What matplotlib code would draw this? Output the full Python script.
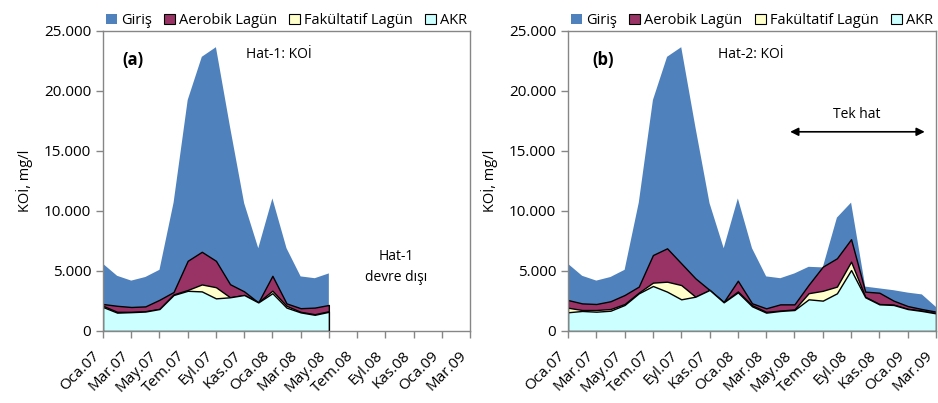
import matplotlib
matplotlib.use('Agg')
from matplotlib import pyplot as plt
from matplotlib.patches import Patch
from matplotlib.ticker import FuncFormatter

plt.rcParams['font.family'] = ['Open Sans', 'DejaVu Sans']

months = ['Oca.07', 'Şub.07', 'Mar.07', 'Nis.07', 'May.07', 'Haz.07', 'Tem.07', 'Ağu.07', 'Eyl.07',
          'Eki.07', 'Kas.07', 'Ara.07', 'Oca.08', 'Şub.08', 'Mar.08', 'Nis.08', 'May.08', 'Haz.08',
          'Tem.08', 'Ağu.08', 'Eyl.08', 'Eki.08', 'Kas.08', 'Ara.08', 'Oca.09', 'Şub.09', 'Mar.09']
series_names = ['Giriş', 'Aerobik Lagün', 'Fakültatif Lagün', 'AKR']

# Hat-1 (Oca.07 - May.08)
giris_a = [5600, 4600, 4200, 4500, 5100, 10700, 19250, 22850, 23650, 17000, 10650, 6900, 11050,
           6900, 4550, 4400, 4800]
aerobik_a = [2250, 2100, 2000, 2050, 2600, 3250, 5850, 6600, 5850, 3900, 3300, 2380, 4600,
             2300, 1900, 1950, 2170]
fak_a = [2100, 1600, 1600, 1650, 1850, 3050, 3420, 3880, 3650, 2810, 3000, 2400, 3360,
         2100, 1600, 1400, 1650]
akr_a = [2000, 1530, 1570, 1620, 1830, 3000, 3350, 3300, 2720, 2810, 3000, 2380, 3150,
         1950, 1550, 1350, 1600]

# Hat-2 (Oca.07 - Mar.09)
giris_b = giris_a + [5350, 5300, 9450, 10700, 3700, 3550, 3400, 3200, 3050, 2000]
aerobik_b = [2580, 2300, 2250, 2480, 3000, 3700, 6330, 6890, 5640, 4390, 3420, 2420, 4190,
             2310, 1890, 2220, 2220, 3850, 5360, 6060, 7650, 3280, 3190, 2530, 2080, 1830, 1610]
fak_b = [1940, 1750, 1750, 1830, 2250, 3200, 4030, 4110, 3830, 2860, 3420, 2400, 3300,
         2150, 1600, 1700, 1800, 3150, 3350, 3700, 5780, 2850, 2250, 2200, 1850, 1700, 1480]
akr_b = [1560, 1670, 1610, 1690, 2170, 3140, 3750, 3280, 2640, 2860, 3420, 2390, 3220,
         2060, 1530, 1670, 1750, 2640, 2530, 3140, 5080, 2810, 2220, 2170, 1830, 1670, 1470]

colors = ['#4F81BD', '#993366', '#FFFFCC', '#CCFFFF']
grey = '#868686'


def draw_panel(ax, data):
	for i, vals in enumerate(data):
		x = range(len(vals))
		if i == 0:
			ax.fill_between(x, 0, vals, facecolor=colors[i], edgecolor='none', lw=0)
		else:
			ax.fill_between(x, 0, vals, facecolor=colors[i], edgecolor='black', lw=1.0)
	ax.set_xlim(0, len(months) - 1)
	ax.set_ylim(0, 25000)
	ax.set_yticks(range(0, 25001, 5000))
	ax.yaxis.set_major_formatter(FuncFormatter(lambda v, p: '{:,.0f}'.format(v).replace(',', '.')))
	ax.set_xticks(range(0, len(months), 2))
	# anchor at lower right corner so the label stays left of its tick (as in the original)
	ax.set_xticklabels(months[::2], rotation=45, ha='right', va='bottom', rotation_mode='anchor')
	ax.tick_params(axis='both', colors=grey, labelcolor='black', labelsize=11, length=5, width=1)
	ax.tick_params(axis='x', pad=15)
	for sp in ax.spines.values():
		sp.set_color(grey)
		sp.set_linewidth(1.0)
	ax.set_ylabel('KOİ, mg/l', fontsize=10.5, labelpad=8)
	handles = [Patch(facecolor=colors[0], edgecolor='none')] + \
		[Patch(facecolor=c, edgecolor='black', lw=0.8) for c in colors[1:]]
	ax.legend(handles, series_names, loc='lower left', bbox_to_anchor=(0, 1.0, 1, 0.1), mode='expand',
			  ncol=4, frameon=False, fontsize=10.5, handlelength=0.75, handleheight=0.75,
			  handletextpad=0.3, borderaxespad=0.1, borderpad=0.1)


fig = plt.figure(figsize=(9.38, 4.03), dpi=100)
ax1 = fig.add_axes([103 / 938, 72 / 403, 367 / 938, 300 / 403])
ax2 = fig.add_axes([568 / 938, 72 / 403, 368 / 938, 300 / 403])

draw_panel(ax1, [giris_a, aerobik_a, fak_a, akr_a])
draw_panel(ax2, [giris_b, aerobik_b, fak_b, akr_b])

ax1.text(2.1, 22600, '(a)', fontsize=12, fontweight='bold', ha='center', va='center')
ax1.text(10.1, 23000, 'Hat-1: KOİ', fontsize=10, ha='left', va='center')
ax1.text(20.8, 5350, 'Hat-1\ndevre dışı', fontsize=10, ha='center', va='center', linespacing=1.5)

ax2.text(2.5, 22600, '(b)', fontsize=12, fontweight='bold', ha='center', va='center')
ax2.text(10.6, 23000, 'Hat-2: KOİ', fontsize=10, ha='left', va='center')
ax2.text(20.4, 18000, 'Tek hat', fontsize=10, ha='center', va='center')
ax2.annotate('', xy=(25.4, 16600), xytext=(15.5, 16600),
			 arrowprops=dict(arrowstyle='<|-|>', color='black', lw=1.2, mutation_scale=12))

plt.savefig('out.png', dpi=100)
